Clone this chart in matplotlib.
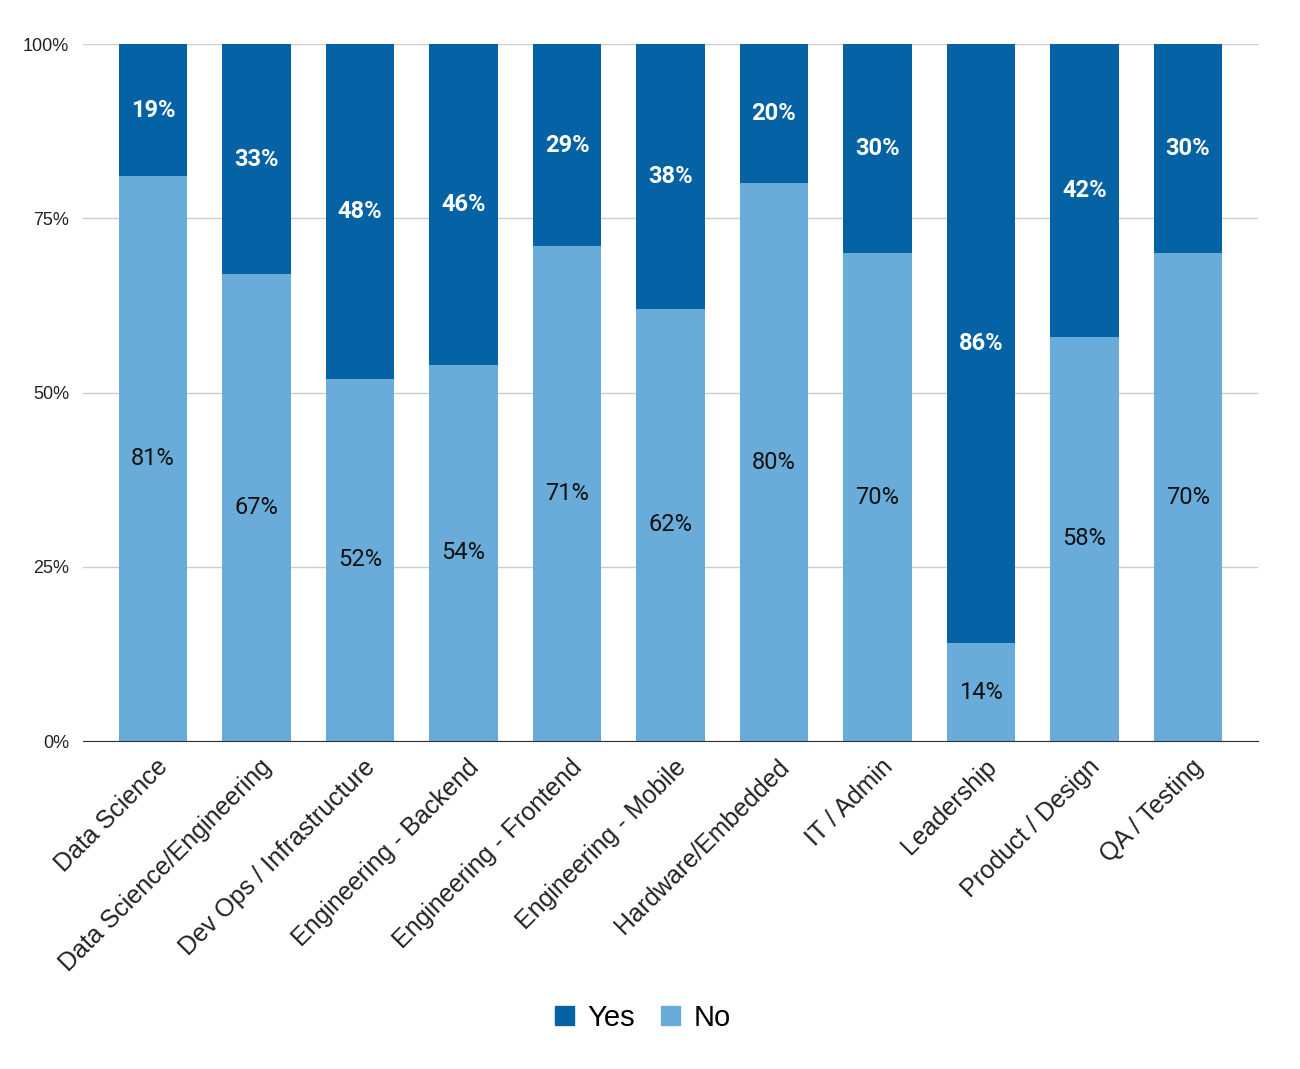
import matplotlib
matplotlib.use("Agg")
import matplotlib.pyplot as plt
from matplotlib.patches import Patch
import matplotlib.transforms as mtransforms

# data (percent)
categories = ["Data Science", "Data Science/Engineering", "Dev Ops / Infrastructure",
              "Engineering - Backend", "Engineering - Frontend", "Engineering - Mobile",
              "Hardware/Embedded", "IT / Admin", "Leadership", "Product / Design",
              "QA / Testing"]
yes_pct = [19, 33, 48, 46, 29, 38, 20, 30, 86, 42, 30]
no_pct = [81, 67, 52, 54, 71, 62, 80, 70, 14, 58, 70]

dark = "#0563a5"
light = "#6aacd9"

fig = plt.figure(figsize=(13, 10.69), dpi=100)
ax = fig.add_axes([0.0638, 0.3068, 0.9039, 0.652])

x = list(range(len(categories)))
w = 0.66
ax.bar(x, no_pct, width=w, color=light, zorder=2)
ax.bar(x, yes_pct, width=w, bottom=no_pct, color=dark, zorder=2)

for i in x:
    ax.text(i, no_pct[i] / 2, f"{no_pct[i]}%", ha="center", va="center",
            fontsize=17, color="#111111", family="Roboto", zorder=3)
    ax.text(i, no_pct[i] + yes_pct[i] / 2, f"{yes_pct[i]}%", ha="center", va="center",
            fontsize=17, color="white", family="Roboto", fontweight="bold", zorder=3)

ax.set_xlim(-0.676, len(categories) - 1 + 0.676)
ax.set_ylim(0, 100)
ax.set_yticks([0, 25, 50, 75, 100])
ax.set_yticklabels(["0%", "25%", "50%", "75%", "100%"], fontsize=13,
                   family="Liberation Sans", color="#222222")
ax.yaxis.grid(True, color="#cccccc", linewidth=1, zorder=0)
ax.tick_params(axis="y", length=0, pad=10)
ax.tick_params(axis="x", length=0, pad=10)

ax.set_xticks(x)
ax.set_xticklabels(categories, rotation=45, ha="right", va="top",
                   rotation_mode="anchor", fontsize=18, family="Liberation Sans",
                   color="#222222")
offset = mtransforms.ScaledTranslation(0.03, 0, fig.dpi_scale_trans)
for lab in ax.get_xticklabels():
    lab.set_transform(lab.get_transform() + offset)

for s in ["top", "right", "left"]:
    ax.spines[s].set_visible(False)
ax.spines["bottom"].set_color("#333333")
ax.spines["bottom"].set_zorder(4)

handles = [Patch(color=dark, label="Yes"), Patch(color=light, label="No")]
fig.legend(handles=handles, loc="center", bbox_to_anchor=(0.4946, 0.048), ncol=2,
           frameon=False, prop={"family": "Liberation Sans", "size": 21},
           handlelength=0.65, handleheight=0.65, handletextpad=0.45, columnspacing=0.9)

fig.savefig("out.png", dpi=100)
